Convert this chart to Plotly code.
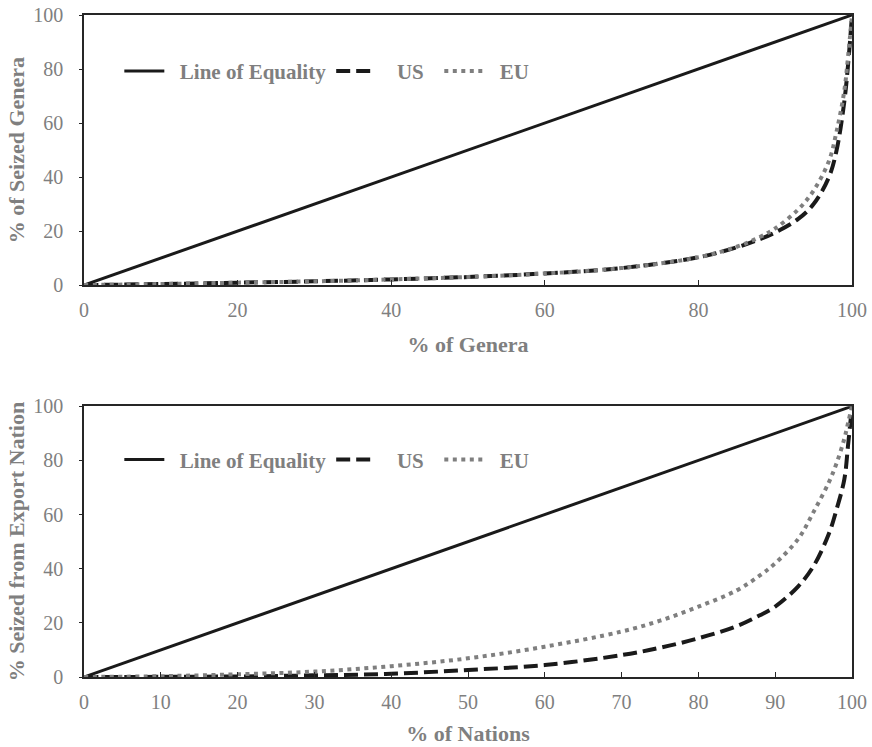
import plotly.graph_objects as go
from plotly.subplots import make_subplots

# Top panel: % of Genera vs % of Seized Genera
genera_x = [0, 10, 20, 30, 40, 50, 60, 70, 80, 85, 88, 90, 93, 95, 97, 98, 99, 99.5, 100]
genera_us = [0, 0.4, 0.9, 1.4, 2.1, 3.0, 4.3, 6.3, 10.3, 14.0, 17.0, 19.5, 24.5, 30.0, 40.0, 50.0, 68.0, 82.0, 100]
genera_eu = [0, 0.4, 0.9, 1.4, 2.1, 3.0, 4.3, 6.3, 10.3, 14.2, 17.8, 21.0, 28.0, 35.0, 46.0, 57.0, 72.0, 85.0, 100]

# Bottom panel: % of Nations vs % Seized from Export Nation
nations_x = [0, 10, 20, 30, 40, 50, 60, 70, 75, 80, 85, 88, 90, 93, 95, 97, 98, 99, 99.5, 100]
nations_us = [0, 0.05, 0.2, 0.6, 1.2, 2.6, 4.4, 8.1, 10.8, 14.3, 18.8, 22.8, 26.0, 33.5, 41.0, 53.0, 62.0, 73.0, 86.0, 100]
nations_eu = [0, 0.3, 1.0, 2.0, 4.0, 6.9, 11.2, 16.8, 20.8, 26.0, 32.0, 37.5, 42.0, 51.0, 61.0, 72.0, 79.0, 88.0, 94.0, 100]

equality = [0, 100]

top_ticks = [0, 20, 40, 60, 80, 100]
bottom_ticks = [0, 10, 20, 30, 40, 50, 60, 70, 80, 90, 100]
y_ticks = [0, 20, 40, 60, 80, 100]

TXT = "#7f7f7f"
FONT = "Liberation Serif"
AX = "#262626"
SP = "\u00a0"

fig = make_subplots(rows=2, cols=1, vertical_spacing=0.0)

def add_panel(row, xs, us, eu, legend):
    fig.add_trace(go.Scatter(x=equality, y=equality, mode="lines",
                             name=SP * 2 + "<b>Line of Equality</b>",
                             line=dict(color="#1a1a1a", width=3), legend=legend), row=row, col=1)
    fig.add_trace(go.Scatter(x=xs, y=us, mode="lines", name=SP * 3 + "<b>US</b>" + SP * 2,
                             line_shape="spline",
                             line=dict(color="#1a1a1a", width=4, dash="14px,6px"), legend=legend), row=row, col=1)
    fig.add_trace(go.Scatter(x=xs, y=eu, mode="lines", name=SP * 2 + "<b>EU</b>",
                             line_shape="spline",
                             line=dict(color="#7f7f7f", width=4, dash="4px,4.5px"), legend=legend), row=row, col=1)

add_panel(1, genera_x, genera_us, genera_eu, "legend")
add_panel(2, nations_x, nations_us, nations_eu, "legend2")

axis_common = dict(showgrid=False, zeroline=False, showline=True, linecolor=AX, linewidth=1.5,
                   mirror=True, tickfont=dict(family=FONT, size=20, color=TXT), range=[0, 100],
                   automargin=False)

fig.update_xaxes(**axis_common, ticks="inside", ticklen=5, tickcolor=AX, tickwidth=1.2,
                 ticklabelstandoff=6)
fig.update_yaxes(**axis_common, ticks="outside", ticklen=3, tickcolor=AX, tickwidth=1.2,
                 tickvals=y_ticks, ticklabelstandoff=12)

tfont = dict(family=FONT, size=22, color=TXT)
fig.update_xaxes(tickvals=top_ticks, row=1, col=1,
                 title=dict(text="<b>% of Genera</b>", font=tfont, standoff=17))
fig.update_xaxes(tickvals=bottom_ticks, row=2, col=1,
                 title=dict(text="<b>% of Nations</b>", font=tfont, standoff=14))
fig.update_yaxes(row=1, col=1,
                 title=dict(text="<b>% of Seized Genera</b>", font=tfont, standoff=3))
fig.update_yaxes(row=2, col=1,
                 title=dict(text="<b>% Seized from Export Nation</b>", font=tfont, standoff=3))

legend_common = dict(orientation="h", xanchor="left", yanchor="middle",
                     bgcolor="rgba(0,0,0,0)", font=dict(family=FONT, size=21, color=TXT),
                     itemwidth=40, traceorder="normal")

fig.update_layout(
    width=872, height=747,
    margin=dict(l=84, r=20, t=15, b=70),
    paper_bgcolor="white", plot_bgcolor="white",
    font=dict(family=FONT, color=TXT),
    yaxis=dict(domain=[0.592, 1.0]), yaxis2=dict(domain=[0.0, 0.409]),
    showlegend=True,
    legend=dict(x=0.046, y=0.915, **legend_common),
    legend2=dict(x=0.046, y=0.328, **legend_common),
)

fig.write_html("out.html", config={"displayModeBar": False},
               post_script="document.body.style.margin='0';")
